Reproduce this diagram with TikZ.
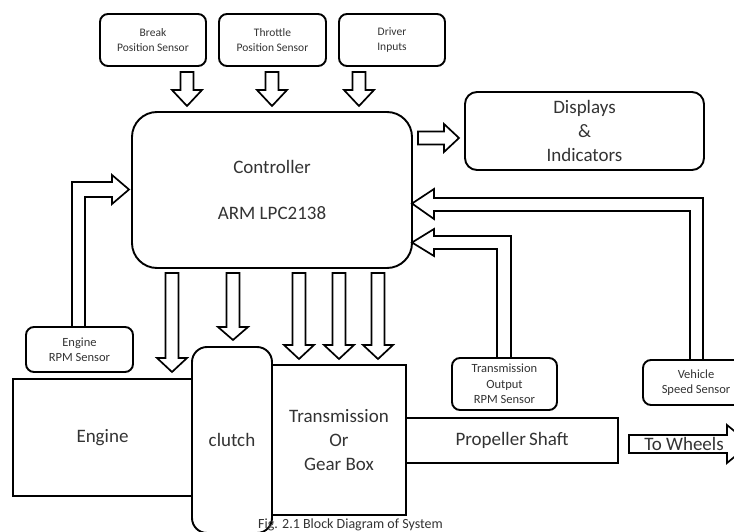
\documentclass[tikz,border=0pt]{standalone}
\usepackage{fontspec}
\setmainfont{Carlito}
\begin{document}
\begin{tikzpicture}[x=1pt,y=-1pt,
  box/.style={draw, line width=1.9pt, align=center, inner sep=0pt, text=black!80},
  rbox/.style={box, rounded corners=8pt},
  arr/.style={draw, line width=1.7pt, fill=white, line join=miter},
  big/.style={font=\fontsize{19}{24}\selectfont},
  small/.style={font=\fontsize{11.5}{15}\selectfont},
  mid/.style={font=\fontsize{12.5}{15.5}\selectfont}]
\useasboundingbox (0,0) rectangle (734,532);

% hollow block arrow pointing down: centre x, shaft top, head base, tip
\newcommand\blkdown[4]{%
  \draw[arr] ({#1-6.5},#2) -- ({#1+6.5},#2) -- ({#1+6.5},#3) -- ({#1+15},#3)
    -- (#1,#4) -- ({#1-15},#3) -- ({#1-6.5},#3) -- cycle;}

% sensors feeding the controller from above
\node[rbox, small, minimum width=106, minimum height=52] (brk) at (153,40) {Break\\Position Sensor};
\node[rbox, small, minimum width=107, minimum height=52] (thr) at (272.5,40) {Throttle\\Position Sensor};
\node[rbox, small, minimum width=106, minimum height=52] (drv) at (392,40) {Driver\\Inputs};

% controller and display
\node[box, rounded corners=25pt, big, minimum width=280, minimum height=156] (ctl) at (272,190)
  {Controller\\[22pt]ARM LPC2138};
\node[box, rounded corners=12pt, big, minimum width=239, minimum height=78] (disp) at (584.5,131)
  {Displays\\\&\\Indicators};

% drive train
\node[box, big, minimum width=179, minimum height=117] (eng) at (102.5,437.5) {Engine};
\node[box, big, minimum width=134, minimum height=150] (gear) at (339,440) {Transmission\\Or\\Gear Box};
\node[box, big, minimum width=212, minimum height=45] (prop) at (512,440.5) {Propeller\,Shaft};
\node[box, rounded corners=15pt, fill=white, big, minimum width=80, minimum height=186] (clutch) at (232,440) {clutch};

% sensors on the drive train
\node[rbox, mid, minimum width=107, minimum height=45] (erpm) at (79.5,349.5) {Engine\\RPM Sensor};
\node[rbox, mid, minimum width=105, minimum height=52] (trpm) at (504.5,384) {Transmission\\Output\\RPM Sensor};
\node[rbox, mid, minimum width=106, minimum height=45] (vss) at (696,382.5) {Vehicle\\Speed Sensor};

% inputs into the controller
\blkdown{187}{72}{90}{106}
\blkdown{272}{72}{90}{106}
\blkdown{359}{72}{90}{106}

% controller outputs down to the drive train
\blkdown{172}{273}{358}{372}
\blkdown{233}{273}{327}{340}
\blkdown{299}{273}{345}{359}
\blkdown{339}{273}{345}{359}
\blkdown{378}{273}{345}{359}

% controller to displays
\draw[arr] (418,131.5) -- (444,131.5) -- (444,124) -- (459,138) -- (444,152)
  -- (444,144.5) -- (418,144.5) -- cycle;

% engine rpm feedback
\draw[arr] (72,327) -- (72,182) -- (112,182) -- (112,175) -- (129,189.5)
  -- (112,204) -- (112,197) -- (85,197) -- (85,327) -- cycle;

% vehicle speed feedback
\draw[arr] (690,360) -- (690,211) -- (434,211) -- (434,219) -- (412,203.5)
  -- (434,189) -- (434,198) -- (703,198) -- (703,360) -- cycle;

% transmission output rpm feedback
\draw[arr] (497,358) -- (497,249) -- (434,249) -- (434,256) -- (412,242.5)
  -- (434,229) -- (434,236) -- (511,236) -- (511,358) -- cycle;

% output to the wheels
\draw[arr] (629,435) -- (727,435) -- (727,425) -- (750,444) -- (727,463)
  -- (727,453) -- (629,453) -- cycle;
\node[big, text=black!80, inner sep=0pt] (wheels) at (684,444) {To Wheels};

% caption
\node[anchor=base west, inner sep=0pt, text=black!80, font=\fontsize{14}{17}\selectfont] (cap)
  at (258,528) {Fig. 2.1 Block Diagram of System};
\end{tikzpicture}
\end{document}
